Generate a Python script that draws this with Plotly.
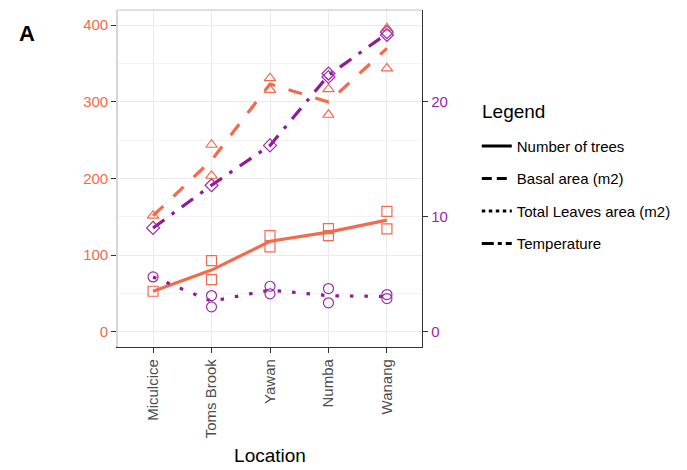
import numpy as np
import pandas as pd
import plotly.graph_objects as go

# ---- data ---------------------------------------------------------------
locations = ["Miculcice", "Toms Brook", "Yawan", "Numba", "Wanang"]

# Number of trees (left axis)
tree_site = ["Miculcice", "Toms Brook", "Toms Brook", "Yawan", "Yawan",
             "Numba", "Numba", "Wanang", "Wanang"]
tree_count = [52.9, 92.8, 68.1, 125.4, 110.7, 134.5, 125.4, 157.0, 134.1]

# Basal area, m2 (left axis)
basal_site = ["Miculcice", "Toms Brook", "Toms Brook", "Yawan", "Yawan",
              "Numba", "Numba", "Wanang", "Wanang"]
basal_area = [151.4, 243.9, 203.5, 330.7, 315.5, 316.4, 283.0, 395.8, 343.4]

# Total leaves area, m2 (right axis)
leaf_site = ["Miculcice", "Toms Brook", "Toms Brook", "Yawan", "Yawan",
             "Numba", "Numba", "Wanang", "Wanang"]
leaf_area = [4.77, 3.15, 2.17, 3.96, 3.30, 3.76, 2.52, 3.24, 2.89]

# Temperature (right axis)
temp_site = ["Miculcice", "Toms Brook", "Yawan", "Numba", "Numba",
             "Wanang", "Wanang"]
temperature = [9.03, 12.74, 16.2, 22.15, 22.45, 25.8, 26.05]

left_ticks = [0, 100, 200, 300, 400]
right_ticks = [0, 10, 20]
sec_scale = 15  # right axis = left axis / 15

# ---- styling ------------------------------------------------------------
ORANGE = "#F36B4E"
PURPLE = "#8E1B95"
PURPLE_PT = "#9B2DA7"
FONT = "Liberation Sans, Arial, sans-serif"

y_range = [-19.8, 419.6]


def site_means(sites, values):
    df = pd.DataFrame({"site": sites, "v": values})
    m = df.groupby("site", sort=False)["v"].mean()
    return [m[s] for s in locations]


fig = go.Figure()

series = [
    # name, sites, values, axis, line colour, marker colour, dash, symbol
    ("Number of trees", tree_site, tree_count, "y", ORANGE, ORANGE,
     "solid", "square-open"),
    ("Basal area (m2)", basal_site, basal_area, "y", ORANGE, ORANGE,
     "14px,14px", "triangle-up-open"),
    ("Total Leaves area (m2)", leaf_site, leaf_area, "y2", PURPLE, PURPLE_PT,
     "3.5px,11px", "circle-open"),
    ("Temperature", temp_site, temperature, "y2", PURPLE, PURPLE_PT,
     "14px,9px,3.5px,9px", "diamond-open"),
]

for name, sites, vals, yax, lcol, mcol, dash, sym in series:
    fig.add_trace(go.Scatter(
        x=locations, y=site_means(sites, vals), yaxis=yax, mode="lines",
        line=dict(color=lcol, width=3.2, dash=dash),
        showlegend=False, hoverinfo="skip"))

for name, sites, vals, yax, lcol, mcol, dash, sym in series:
    fig.add_trace(go.Scatter(
        x=sites, y=vals, yaxis=yax, mode="markers",
        marker=dict(symbol=sym, size=10, color=mcol,
                    line=dict(color=mcol, width=1.2)),
        showlegend=False))

# legend keys are drawn in black
legend_dash = ["solid", "10px,5px", "3.5px,3.5px", "12px,4px,4px,4px"]
for (name, *_), dash in zip(series, legend_dash):
    fig.add_trace(go.Scatter(
        x=[None], y=[None], mode="lines", name=name, legendgroup=name,
        line=dict(color="black", width=3, dash=dash)))

axis_tick = dict(ticks="outside", ticklen=5, tickwidth=1.3, tickcolor="#333333")

fig.update_layout(
    width=687, height=470,
    margin=dict(l=118, r=265.3, t=10, b=122.5, autoexpand=False),
    paper_bgcolor="white", plot_bgcolor="white",
    font=dict(family=FONT, size=15, color="#000000"),
    xaxis=dict(
        type="category", categoryorder="array", categoryarray=locations,
        range=[-0.6, 4.6], tickangle=-90, automargin=False,
        tickfont=dict(size=15, color="#4D4D4D"),
        showgrid=True, gridcolor="#EBEBEB", gridwidth=1.4,
        showline=True, linecolor="#333333", linewidth=1.3,
        title=dict(text="Location", font=dict(size=19, color="#000000"),
                   standoff=11),
        zeroline=False, **axis_tick),
    yaxis=dict(
        range=y_range, tickvals=left_ticks, automargin=False,
        tickfont=dict(size=15, color=ORANGE),
        showgrid=True, gridcolor="#EBEBEB", gridwidth=1.4,
        minor=dict(dtick=50, tick0=0, showgrid=True, gridcolor="#F3F3F3",
                   gridwidth=1, ticks=""),
        showline=True, linecolor="#D6D6D6", linewidth=1.6,
        zeroline=False, **axis_tick),
    yaxis2=dict(
        overlaying="y", side="right", automargin=False,
        range=[y_range[0] / sec_scale, y_range[1] / sec_scale],
        tickvals=right_ticks, tickfont=dict(size=15, color="#9B1FA5"),
        showgrid=False, showline=True, linecolor="#333333", linewidth=1.3,
        zeroline=False, **axis_tick),
    legend=dict(
        xref="container", yref="container", x=0.694, y=0.724,
        xanchor="left", yanchor="top",
        font=dict(size=15, color="#000000"),
        tracegroupgap=10, itemwidth=30, bgcolor="rgba(0,0,0,0)"),
    shapes=[dict(type="line", xref="paper", yref="paper", x0=0, x1=1,
                 y0=1, y1=1, line=dict(color="#D6D6D6", width=1.6))],
    annotations=[
        dict(text="<b>A</b>", xref="paper", yref="paper",
             x=-0.333, y=0.973, showarrow=False,
             font=dict(size=22, color="#000000")),
        dict(text="Legend", xref="paper", yref="paper",
             x=1.19, y=0.698, xanchor="left", yanchor="middle",
             showarrow=False, font=dict(size=19, color="#000000")),
    ],
)

fig.write_html("out.html")
